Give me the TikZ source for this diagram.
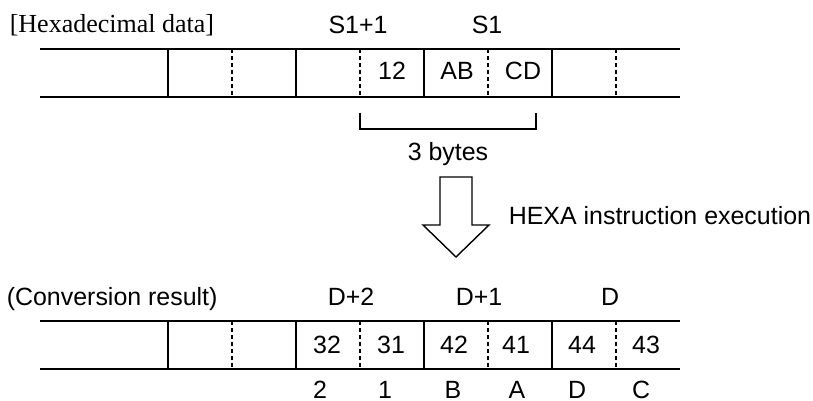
\documentclass[tikz,border=0pt]{standalone}
\usepackage{fontspec}
\setmainfont{Liberation Sans}
\newfontfamily\hexserif{Liberation Serif}
\usetikzlibrary{positioning}

\begin{document}
\begin{tikzpicture}[x=0.02cm,y=-0.02cm,line width=0.9pt,
  font=\fontsize{14.2}{17}\selectfont,
  every node/.style={inner sep=0pt,anchor=base},
  bytesep/.style={dash pattern=on 2.3pt off 1.7pt,line width=1.1pt}]
\useasboundingbox (0,0) rectangle (813,401);
% word frames of both rows
\foreach \r/\yt/\yb in {src/49/97,dst/321/369}{
  \draw (40,\yt) -- (680,\yt) (40,\yb) -- (680,\yb);
  \foreach \x in {168,296,424,552} \draw (\x,\yt) -- (\x,\yb);
  \foreach \x in {232,360,488,616} \draw[bytesep] (\x,\yt) -- (\x,\yb);}
% source data
\node[anchor=base west,font=\hexserif\fontsize{14.8}{17}\selectfont] (srctitle) at (9,33) {[Hexadecimal data]};
\foreach \k/\x/\lab in {a/358/S1+1,b/487/S1} \node (srcdev\k) at (\x,34) {\lab};
\foreach \k/\x/\v in {a/392/12,b/457/AB,c/523/CD} \node (srcval\k) at (\x,80) {\v};
\draw (360,113) -- (360,129) -- (536,129) -- (536,113);
\node (bytes) at (448,161) {3 bytes};
% hollow arrow
\draw[line width=0.8pt] (440,177) -- (472,177) -- (472,225) -- (489,225) -- (456,257) -- (423,225) -- (440,225) -- cycle;
\node[anchor=base west] (exec) at (508,225) {HEXA instruction execution};
% result
\node[anchor=base west] (dsttitle) at (6,305) {(Conversion result)};
\foreach \k/\x/\lab in {a/351/D+2,b/479/D+1,c/610/D} \node (dstdev\k) at (\x,305) {\lab};
\foreach \k/\x/\v in {a/327/32,b/391/31,c/454/42,d/516/41,e/582/44,f/646/43} \node (dstval\k) at (\x,353) {\v};
\foreach \k/\x/\c in {a/320/2,b/385/1,c/453/B,d/517/A,e/577/D,f/641/C} \node (dstchr\k) at (\x,398) {\c};
\end{tikzpicture}
\end{document}
